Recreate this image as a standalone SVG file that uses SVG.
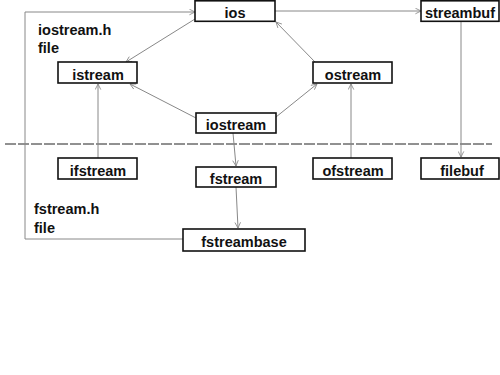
<svg xmlns="http://www.w3.org/2000/svg" width="500" height="375" viewBox="0 0 500 375">
<defs>
<style>
.box{fill:#fff;stroke:#111;stroke-width:1.6}
.t{font-family:"Liberation Sans",Arial,sans-serif;font-weight:bold;font-size:14.5px;fill:#111;text-anchor:middle}
.lbl{font-family:"Liberation Sans",Arial,sans-serif;font-weight:bold;font-size:14.5px;fill:#111}
.c{fill:none;stroke:#888;stroke-width:1}
</style>
<marker id="ah" viewBox="0 0 10 10" refX="9" refY="5" markerWidth="7" markerHeight="7" orient="auto" markerUnits="userSpaceOnUse">
<path d="M1,1 L9,5 L1,9" fill="none" stroke="#888" stroke-width="1.2"/>
</marker>
</defs>
<rect width="500" height="375" fill="#fff"/>
<line x1="5" y1="144" x2="492" y2="144" stroke="#222" stroke-width="1" stroke-dasharray="11 2"/>
<text class="lbl" x="38" y="35">iostream.h</text>
<text class="lbl" x="38" y="53">file</text>
<text class="lbl" x="34" y="214">fstream.h</text>
<text class="lbl" x="34" y="233">file</text>
<g id="connectors">
<path class="c" d="M183,239 H25 V12 H195" marker-end="url(#ah)"/>
<path class="c" d="M275,11 H421" marker-end="url(#ah)"/>
<path class="c" d="M461,21 V157" marker-end="url(#ah)"/>
<path class="c" d="M195,19 L126,62" marker-end="url(#ah)"/>
<path class="c" d="M196,118 L130,84" marker-end="url(#ah)"/>
<path class="c" d="M315,62 L276,22" marker-end="url(#ah)"/>
<path class="c" d="M276,117 L317,84" marker-end="url(#ah)"/>
<path class="c" d="M98,158 V84" marker-end="url(#ah)"/>
<path class="c" d="M351,158 V84" marker-end="url(#ah)"/>
<path class="c" d="M233,133 L236,166" marker-end="url(#ah)"/>
<path class="c" d="M236,187 L238,228" marker-end="url(#ah)"/>
</g>
<g id="ios"><rect class="box" x="195" y="0.8" width="80" height="20.5"/><text class="t" x="235" y="17.5">ios</text></g>
<g id="streambuf"><rect class="box" x="421" y="0.8" width="78" height="20.5"/><text class="t" x="460" y="17.5">streambuf</text></g>
<g id="istream"><rect class="box" x="58" y="62" width="79" height="21"/><text class="t" x="98" y="79.5">istream</text></g>
<g id="ostream"><rect class="box" x="313" y="62" width="79" height="21"/><text class="t" x="353" y="79.5">ostream</text></g>
<g id="iostream"><rect class="box" x="196" y="113" width="80" height="20"/><text class="t" x="236" y="129.5">iostream</text></g>
<g id="ifstream"><rect class="box" x="58" y="158" width="79" height="21"/><text class="t" x="98" y="175.5">ifstream</text></g>
<g id="fstream"><rect class="box" x="196" y="167" width="80" height="20"/><text class="t" x="236" y="183.5">fstream</text></g>
<g id="ofstream"><rect class="box" x="313" y="158" width="79" height="21"/><text class="t" x="353" y="175.5">ofstream</text></g>
<g id="filebuf"><rect class="box" x="421" y="158" width="78" height="21"/><text class="t" x="462" y="175.5">filebuf</text></g>
<g id="fstreambase"><rect class="box" x="183" y="229" width="122" height="22"/><text class="t" x="244" y="246.5">fstreambase</text></g>
</svg>
